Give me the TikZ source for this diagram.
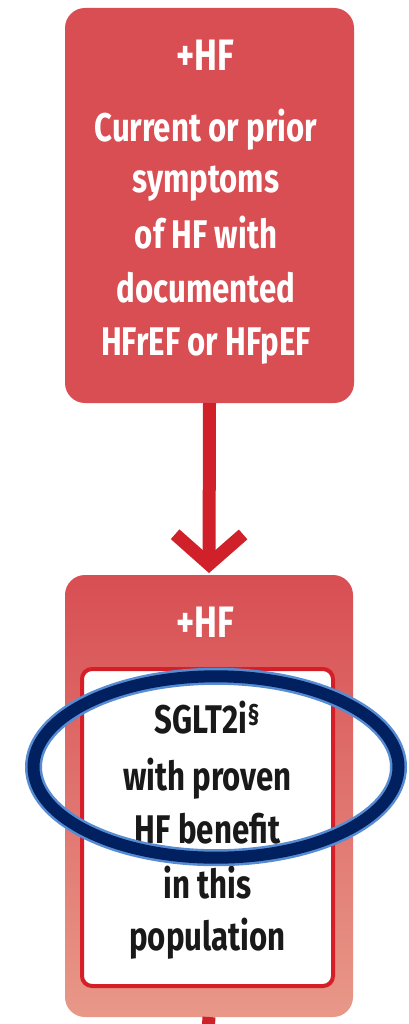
\documentclass[tikz,border=0pt]{standalone}
\usepackage{fontspec}
\setmainfont{Fira Sans}[FakeStretch=0.78]
\usetikzlibrary{arrows.meta}

\definecolor{boxred}{RGB}{216,78,83}
\definecolor{boxpink}{RGB}{232,152,136}
\definecolor{arrowred}{RGB}{208,32,42}
\definecolor{rimred}{RGB}{214,30,40}
\definecolor{ringnavy}{RGB}{0,32,96}
\definecolor{ringblue}{RGB}{88,140,210}
\definecolor{inkblack}{RGB}{25,25,25}

\tikzset{
  panel/.style={rectangle, rounded corners=20pt, inner sep=0pt, outer sep=0pt},
  headtxt/.style={anchor=base, inner sep=0pt, text=white,
    font=\fontsize{44}{44}\selectfont\bfseries},
  bodytxt/.style={anchor=base, inner sep=0pt,
    font=\fontsize{40}{40}\selectfont\bfseries},
  flow/.style={draw=arrowred, line width=13pt,
    -{Straight Barb[length=30pt, width=68pt]}},
}

\begin{document}
\begin{tikzpicture}[x=1pt, y=-1pt]
\useasboundingbox (0,0) rectangle (409,1024);
\fill[white] (0,0) rectangle (409,1024);

% upper panel: patient group
\node[panel, fill=boxred, minimum width=289pt, minimum height=395pt]
  (upper) at (209.5,205.5) {};
\node[headtxt] (upperhead) at (205,71) {+HF};
\foreach \txt/\yb [count=\i] in {Current or prior/142, symptoms/193,
    of HF with/248, documented/302, HFrEF or HFpEF/355}
  \node[bodytxt, text=white] (upper\i) at (206,\yb) {\txt};

% lower panel: recommended therapy
\node[panel, top color=boxred, bottom color=boxpink,
      minimum width=288pt, minimum height=442pt]
  (lower) at (209,796) {};
\node[headtxt] (lowerhead) at (205,637) {+HF};
\node[rectangle, rounded corners=10pt, draw=rimred, line width=4pt, fill=white,
      minimum width=251pt, minimum height=317pt, inner sep=0pt]
  (therapy) at (207.5,827.5) {};
\foreach \txt/\yb [count=\i] in {SGLT2i\textsuperscript{\S}/733, with proven/790,
    HF benefit/843, in this/898, population/950}
  \node[bodytxt, text=inkblack] (lower\i) at (207.5,\yb) {\txt};

% connectors
\draw[flow, shorten >=2pt] (upper.south) -- (lower.north);
\coordinate (next) at (207.5,1040);
\draw[draw=arrowred, line width=13pt] (lower.south) -- (next);

% highlight ring
\draw[ringblue, line width=17pt] (216,767) ellipse [x radius=182.5, y radius=90.7];
\draw[ringnavy, line width=12pt] (216,767) ellipse [x radius=182.5, y radius=90.7];
\end{tikzpicture}
\end{document}
